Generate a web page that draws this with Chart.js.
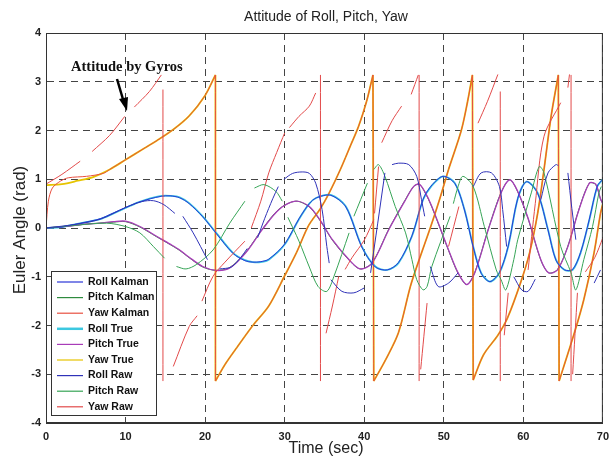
<!DOCTYPE html>
<html lang="en">
<head>
    <meta charset="UTF-8">
    <title>Attitude of Roll, Pitch, Yaw</title>
    <script src="https://cdn.jsdelivr.net/npm/chart.js"></script>
    <style>
        body { margin: 0; background: #fff; }
        #wrap { width: 616px; height: 459px; }
    </style>
</head>
<body>
    <div id="wrap"><canvas id="attChart" width="616" height="459"></canvas></div>

    <script>
        // ---- data (time in sec, angle in rad) ----
        const xTicks = [0, 10, 20, 30, 40, 50, 60, 70];
        const yTicks = [-4, -3, -2, -1, 0, 1, 2, 3, 4];
        const seriesNames = ["Roll Kalman", "Pitch Kalman", "Yaw Kalman", "Roll True", "Pitch True", "Yaw True", "Roll Raw", "Pitch Raw", "Yaw Raw"];

        const rollT = [0, 2, 3.5, 5, 6.8, 8.5, 10, 11.5, 13.1, 14.5, 15.6, 16.8, 18, 19.7, 21.4, 23.5, 25, 26, 27, 28, 30, 31.8, 33.1, 34, 35.8, 37.7, 39.7, 41.4, 42.9, 44.3, 46, 47.4, 48.4, 49.9, 51.4, 52.6, 53.7, 54.7, 55.8, 57, 58.1, 59.3, 60.4, 61.8, 63.1, 64.1, 65.2, 66.2, 67.2, 68.3, 69.3, 70];
        const rollTrueV = [0, 0.02, 0.07, 0.12, 0.18, 0.3, 0.41, 0.52, 0.61, 0.66, 0.66, 0.63, 0.51, 0.24, -0.1, -0.51, -0.66, -0.7, -0.7, -0.65, -0.34, 0.18, 0.5, 0.62, 0.68, 0.44, -0.38, -0.79, -0.86, -0.72, -0.17, 0.58, 0.85, 1.06, 0.92, 0.38, -0.38, -0.92, -1.1, -0.92, -0.38, 0.6, 0.95, 0.72, -0.03, -0.65, -0.86, -0.86, -0.51, 0.17, 0.85, 1.0];
        const rollKalmanV = [0, 0.02, 0.07, 0.12, 0.19, 0.31, 0.42, 0.52, 0.6, 0.65, 0.66, 0.62, 0.5, 0.23, -0.11, -0.52, -0.67, -0.7, -0.69, -0.64, -0.33, 0.19, 0.5, 0.62, 0.67, 0.43, -0.39, -0.8, -0.86, -0.71, -0.16, 0.59, 0.86, 1.06, 0.91, 0.37, -0.39, -0.93, -1.1, -0.91, -0.37, 0.61, 0.95, 0.71, -0.04, -0.66, -0.86, -0.85, -0.5, 0.18, 0.86, 1.0];

        const pitchT = [0, 3, 5, 6.8, 8.5, 10, 11.8, 13.9, 15.6, 16.8, 18, 19.7, 21.4, 23.1, 25.1, 27.2, 29.3, 31.4, 33.1, 34.5, 36, 38.1, 39.5, 41, 43.1, 45.2, 46.2, 46.9, 47.6, 48.5, 50.6, 51.8, 52.9, 53.9, 55.6, 57.2, 58.3, 59.3, 60.6, 62.2, 63.2, 64.3, 65.6, 67, 68.3, 69.1, 69.7, 70];
        const pitchTrueV = [0, 0.04, 0.08, 0.1, 0.13, 0.14, 0.03, -0.17, -0.33, -0.45, -0.6, -0.79, -0.87, -0.82, -0.51, -0.03, 0.38, 0.55, 0.44, 0.15, -0.24, -0.65, -0.84, -0.72, -0.03, 0.58, 0.85, 0.9, 0.75, 0.44, -0.45, -0.92, -1.16, -0.92, -0.03, 0.72, 0.99, 0.75, 0.2, -0.65, -0.92, -0.86, -0.38, 0.38, 0.92, 0.9, 0.6, 0.5];
        const pitchKalmanV = [0, 0.04, 0.08, 0.1, 0.12, 0.13, 0.02, -0.18, -0.34, -0.46, -0.61, -0.8, -0.87, -0.81, -0.5, -0.02, 0.39, 0.55, 0.43, 0.14, -0.25, -0.66, -0.84, -0.71, -0.02, 0.59, 0.85, 0.9, 0.74, 0.43, -0.46, -0.93, -1.16, -0.91, -0.02, 0.73, 0.99, 0.74, 0.19, -0.66, -0.92, -0.85, -0.37, 0.39, 0.92, 0.89, 0.59, 0.5];

        // yaw wraps at +/-pi: each jump is its own two-point piece (null = break)
        const yawT = [0, 2, 4, 6, 8, 10, 12, 14, 16, 18, 20, 21.3, 21.3, 21.3, 21.3, 21.3, 21.3, 22.5, 24, 26, 28, 30, 31.5, 33, 34.5, 35.6, 37, 38.3, 39.3, 40.3, 41.1, 41.1, 41.1, 41.2, 41.2, 41.2, 42.7, 44.3, 45.8, 46.8, 48.3, 49.5, 50.6, 52.2, 53, 53.6, 53.6, 53.6, 53.7, 53.7, 53.7, 55, 56.8, 58, 59.7, 60.8, 61.8, 62.6, 63.5, 64.4, 64.4, 64.4, 64.5, 64.5, 64.5, 66.4, 67.6, 68.9, 69.7, 70];
        const yawTrueV = [0.88, 0.9, 0.97, 1.05, 1.2, 1.4, 1.6, 1.8, 2.02, 2.3, 2.72, 3.14, null, 3.14, -3.14, null, -3.14, -2.8, -2.45, -2.0, -1.6, -0.98, -0.5, 0.05, 0.4, 0.72, 1.2, 1.7, 2.09, 2.6, 3.14, null, 3.14, -3.14, null, -3.14, -2.7, -2.15, -1.2, -0.7, 0, 0.6, 1.2, 2.0, 2.6, 3.14, null, 3.14, -3.12, null, -3.12, -2.6, -2.2, -1.85, -1.1, -0.5, 0.3, 1.2, 2.3, 3.14, null, 3.14, -3.14, null, -3.14, -2.16, -1.47, -0.5, 0.3, 0.5];
        const yawKalT = [0, 0.3, 0.8, 1.8, 2.8, 5.1, 7.2, 8, 10, 12, 14, 16, 18, 20, 21.3, 21.3, 21.3, 21.3, 21.3, 21.3, 22.5, 24, 26, 28, 30, 31.5, 33, 34.5, 35.6, 37, 38.3, 39.3, 40.3, 41.1, 41.1, 41.1, 41.2, 41.2, 41.2, 42.7, 44.3, 45.8, 46.8, 48.3, 49.5, 50.6, 52.2, 53, 53.6, 53.6, 53.6, 53.7, 53.7, 53.7, 55, 56.8, 58, 59.7, 60.8, 61.8, 62.6, 63.5, 64.4, 64.4, 64.4, 64.5, 64.5, 64.5, 66.4, 67.6, 68.9, 69.7, 70];
        const yawKalmanV = [0, 0.55, 0.82, 0.96, 1.03, 1.06, 1.12, 1.2, 1.4, 1.6, 1.8, 2.02, 2.3, 2.72, 3.14, null, 3.14, -3.14, null, -3.14, -2.8, -2.45, -2.0, -1.6, -0.98, -0.5, 0.05, 0.4, 0.72, 1.2, 1.7, 2.09, 2.6, 3.14, null, 3.14, -3.14, null, -3.14, -2.7, -2.15, -1.2, -0.7, 0, 0.6, 1.2, 2.0, 2.6, 3.14, null, 3.14, -3.12, null, -3.12, -2.6, -2.2, -1.85, -1.1, -0.5, 0.3, 1.2, 2.3, 3.14, null, 3.14, -3.14, null, -3.14, -2.16, -1.47, -0.5, 0.3, 0.5];

        // raw gyro integration: broken pieces, null = gap
        const rollRawT = [0, 3.5, 6.8, 10, 12, 13.5, 14.8, 16.2, 16.5, 17.2, 18.5, 20.3, 21, 21.8, 23.3, 24.5, 25.3, 26, 26.6, 27.5, 28.5, 29.2, 29.5, 29.9, 31, 32.2, 33.1, 33.9, 34.7, 35.3, 35.6, 35.7, 35.8, 37.2, 38.7, 40, 40.4, 40.8, 41.7, 42.6, 43, 43.5, 44.3, 45.6, 46.6, 47.2, 47.6, 48, 48.3, 49.3, 50.6, 51.8, 52.5, 53.7, 54.7, 56, 57, 57.4, 57.9, 58.3, 58.8, 59.8, 60.6, 61.5, 62, 62.2, 63.1, 64.1, 64.4, 65, 65.6, 66.1, 66.6, 67, 68.9, 69.7];
        const rollRawV = [0, 0.07, 0.18, 0.42, 0.54, 0.56, 0.48, 0.3, null, 0.24, -0.1, -0.65, null, -0.84, -0.8, -0.6, -0.42, null, -0.2, 0.2, 0.6, 0.85, null, 1.0, 1.12, 1.15, 1.12, 0.92, 0.38, -0.38, -0.72, null, -1.06, -1.3, -1.33, -1.23, null, -0.92, 0.1, 1.13, null, 1.3, 1.33, 1.3, 1.06, 0.58, 0.24, null, -0.79, -1.2, -1.13, -0.92, null, 0.85, 1.13, 1.13, 0.85, 0.38, -0.38, null, -1.0, -1.27, -1.3, -1.05, null, 0.58, 1.13, 1.3, 1.28, null, 1.13, 0.4, -0.24, null, -1.13, -0.86];

        const pitchRawT = [0, 4, 7.6, 10, 11.8, 13.5, 14.9, 15.6, 16.4, 17.6, 18.9, 21, 23.1, 25, 25.6, 26.2, 27.4, 28.9, 29.7, 30, 30.4, 31.8, 33.1, 34.2, 35.3, 36.2, 38.1, 38.4, 38.7, 40.4, 40.8, 41.2, 41.8, 42.6, 43.9, 45.2, 46, 46.6, 47.4, 47.9, 48.5, 50.8, 51, 51.2, 51.8, 52.4, 53.7, 55.1, 56.6, 57.2, 57.8, 58.8, 59.3, 61, 62, 62.6, 64.7, 66, 66.6, 67.6, 68.7, 69.5, 69.8];
        const pitchRawV = [0, 0.06, 0.1, 0.03, -0.1, -0.38, -0.62, null, -0.79, -0.84, -0.75, -0.45, 0.1, 0.55, null, 0.82, 0.89, 0.75, 0.55, null, 0.22, -0.27, -0.8, -1.2, -1.3, -0.99, -0.1, null, 0.24, 0.92, null, 1.2, 1.3, 1.06, 0.44, -0.1, -0.65, -1.06, -1.27, -1.2, -0.79, 0.24, null, 0.5, 0.85, 1.06, 0.85, 0.03, -0.86, -1.06, -1.27, -0.65, -0.24, 0.72, 1.26, 1.13, -0.38, -0.92, -1.27, -0.65, 0.03, 0.72, 0.85];

        const yawRawT = [0, 2, 4.3, 5, 5.8, 8, 9.9, 10.5, 11.1, 13, 14.5, 14.6, 14.7, 14.7, 15, 16, 18, 19, 19.3, 19.6, 21, 22.5, 25, 25.4, 25.8, 27, 28, 29, 30, 30.3, 30.6, 31.8, 33.1, 33.9, 34.2, 34.5, 34.5, 34.8, 35.2, 36, 36.8, 37.2, 37.6, 38.5, 40, 41.2, 41.25, 41.3, 41.8, 42, 42.2, 43.5, 44.7, 45.3, 45.9, 46.8, 46.85, 46.9, 46.9, 47, 47.1, 47.9, 49, 50.6, 51.9, 53, 54.3, 55.5, 56.8, 57, 57.1, 57.1, 57.3, 57.6, 58.1, 59, 60.6, 61.5, 62.6, 64.7, 65.2, 65.6, 65.8, 65.9, 66, 66, 66.1, 66.2, 66.8, 67.3, 67.8, 69, 70];
        const yawRawV = [0.9, 1.1, 1.37, null, 1.57, 1.9, 2.29, null, 2.48, 2.8, 3.14, null, 2.84, -3.14, null, -2.84, -2.02, -1.8, null, -1.5, -0.99, -0.7, -0.27, null, 0.0, 0.55, 1.13, 1.55, 1.95, null, 2.06, 2.29, 2.5, 2.77, null, 3.14, -3.14, null, -2.16, -1.6, -0.99, null, -0.85, -0.6, -0.25, 0.17, null, 0.3, 1.26, null, 1.75, 2.2, 2.5, null, 2.74, 3.14, null, 3.14, -3.14, null, -2.9, -1.54, null, -0.38, 0.44, null, 2.15, 2.6, 3.15, null, 2.8, -3.14, null, -2.2, -1.33, null, -0.86, 0.5, 1.88, 2.57, null, 2.88, 3.15, null, 3.14, -3.14, null, -3.0, -1.33, null, -0.9, -0.6, -0.2];

        const lineColors = ["#2a36d8", "#2e8b3e", "#e85040", "#3cc8e0", "#a83cb8", "#e6c400", "#2f32b8", "#36a456", "#e24a4a"];

        function pts(ts, vs) {
            return ts.map((t, i) => ({ x: t, y: vs[i] }));
        }

        const datasets = [
            { label: seriesNames[0], data: pts(rollT, rollKalmanV), borderColor: lineColors[0], borderWidth: 1, order: 2 },
            { label: seriesNames[1], data: pts(pitchT, pitchKalmanV), borderColor: lineColors[1], borderWidth: 1, order: 6 },
            { label: seriesNames[2], data: pts(yawKalT, yawKalmanV), borderColor: lineColors[2], borderWidth: 1, order: 3 },
            { label: seriesNames[3], data: pts(rollT, rollTrueV), borderColor: lineColors[3], borderWidth: 1.8, order: 5 },
            { label: seriesNames[4], data: pts(pitchT, pitchTrueV), borderColor: lineColors[4], borderWidth: 1.3, order: 4 },
            { label: seriesNames[5], data: pts(yawT, yawTrueV), borderColor: lineColors[5], borderWidth: 1.8, order: 7 },
            { label: seriesNames[6], data: pts(rollRawT, rollRawV), borderColor: lineColors[6], borderWidth: 1, order: 1 },
            { label: seriesNames[7], data: pts(pitchRawT, pitchRawV), borderColor: lineColors[7], borderWidth: 1, order: 1 },
            { label: seriesNames[8], data: pts(yawRawT, yawRawV), borderColor: lineColors[8], borderWidth: 1, order: 1 }
        ];
        datasets.forEach(d => { d.pointRadius = 0; d.tension = 0.3; d.fill = false; d.spanGaps = false; });

        // frame, titles, legend box and the arrow note
        const extras = {
            id: 'extras',
            afterDraw(chart) {
                const ctx = chart.ctx;
                const a = chart.chartArea;
                ctx.save();
                ctx.strokeStyle = '#333';
                ctx.lineWidth = 1;
                ctx.setLineDash([]);
                ctx.strokeRect(a.left + 0.5, a.top + 0.5, a.right - a.left - 1, a.bottom - a.top - 1);

                ctx.fillStyle = '#222';
                ctx.textAlign = 'center';
                ctx.textBaseline = 'middle';
                ctx.font = '14px "Liberation Sans", Arial, sans-serif';
                ctx.fillText('Attitude of Roll, Pitch, Yaw', 326, 17);
                ctx.font = '16px "Liberation Sans", Arial, sans-serif';
                ctx.fillText('Time (sec)', 326, 449);
                ctx.save();
                ctx.translate(20, 230);
                ctx.rotate(-Math.PI / 2);
                ctx.font = '17px "Liberation Sans", Arial, sans-serif';
                ctx.fillText('Euler Angle (rad)', 0, 0);
                ctx.restore();

                // note
                ctx.font = 'bold 14.5px "Liberation Serif", "Times New Roman", serif';
                ctx.textAlign = 'left';
                ctx.fillStyle = '#111';
                ctx.fillText('Attitude by Gyros', 71, 67);
                ctx.strokeStyle = '#000';
                ctx.lineWidth = 2.5;
                ctx.beginPath();
                ctx.moveTo(117, 79);
                ctx.lineTo(123.5, 101);
                ctx.stroke();
                ctx.fillStyle = '#000';
                ctx.beginPath();
                ctx.moveTo(127, 111);
                ctx.lineTo(119, 99);
                ctx.lineTo(128, 97);
                ctx.closePath();
                ctx.fill();

                // legend
                const lx = 51.5, ly = 271.5, lw = 105, lh = 144;
                ctx.fillStyle = '#fff';
                ctx.fillRect(lx, ly, lw, lh);
                ctx.strokeStyle = '#333';
                ctx.lineWidth = 1;
                ctx.strokeRect(lx, ly, lw, lh);
                ctx.font = 'bold 10.5px "Liberation Sans", Arial, sans-serif';
                ctx.textBaseline = 'middle';
                seriesNames.forEach((name, i) => {
                    const y = 282 + i * 15.6;
                    ctx.strokeStyle = lineColors[i];
                    ctx.lineWidth = i === 3 ? 2.5 : 1.2;
                    ctx.beginPath();
                    ctx.moveTo(57, y);
                    ctx.lineTo(83, y);
                    ctx.stroke();
                    ctx.fillStyle = '#111';
                    ctx.fillText(name, 88, y);
                });
                ctx.restore();
            }
        };

        new Chart(document.getElementById('attChart').getContext('2d'), {
            type: 'line',
            data: { datasets: datasets },
            options: {
                responsive: false,
                animation: false,
                layout: { padding: { top: 33, right: 10, left: 0, bottom: 0 } },
                plugins: { legend: { display: false }, title: { display: false }, tooltip: { enabled: false } },
                scales: {
                    x: {
                        type: 'linear', min: 0, max: 70,
                        afterBuildTicks: s => { s.ticks = xTicks.map(v => ({ value: v })); },
                        afterFit: s => { s.height = 36; },
                        ticks: { padding: 7, color: '#222', font: { family: '"Liberation Sans", Arial', size: 11, weight: 'bold' } },
                        grid: { color: '#444', lineWidth: 1, drawTicks: false },
                        border: { color: '#333', dash: [7, 5] }
                    },
                    y: {
                        type: 'linear', min: -4, max: 4,
                        afterBuildTicks: s => { s.ticks = yTicks.map(v => ({ value: v })); },
                        afterFit: s => { s.width = 46; },
                        ticks: { padding: 5, color: '#222', font: { family: '"Liberation Sans", Arial', size: 11, weight: 'bold' } },
                        grid: { color: '#444', lineWidth: 1, drawTicks: false },
                        border: { color: '#333', dash: [7, 5] }
                    }
                }
            },
            plugins: [extras]
        });
    </script>
</body>
</html>
